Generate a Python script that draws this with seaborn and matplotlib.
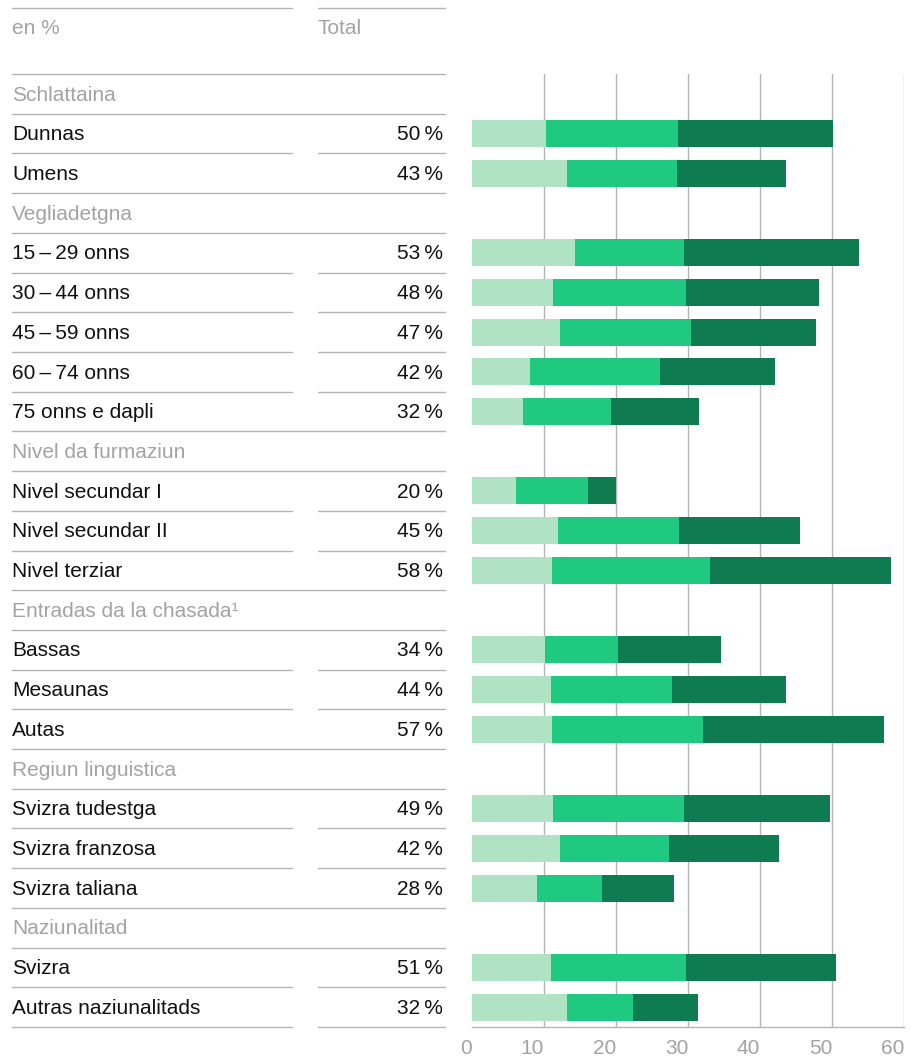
import matplotlib
matplotlib.use("Agg")
import matplotlib.pyplot as plt
from matplotlib.lines import Line2D
from matplotlib.transforms import blended_transform_factory
import pandas as pd
import seaborn as sns

# data
groups = ["Schlattaina", "Vegliadetgna", "Nivel da furmaziun",
          "Entradas da la chasada\u00b9", "Regiun linguistica", "Naziunalitad"]
group_sizes = [2, 5, 3, 3, 3, 2]
categories = ["Dunnas", "Umens",
              "15\u2009\u2013\u200929 onns", "30\u2009\u2013\u200944 onns",
              "45\u2009\u2013\u200959 onns", "60\u2009\u2013\u200974 onns",
              "75 onns e dapli",
              "Nivel secundar I", "Nivel secundar II", "Nivel terziar",
              "Bassas", "Mesaunas", "Autas",
              "Svizra tudestga", "Svizra franzosa", "Svizra taliana",
              "Svizra", "Autras naziunalitads"]
totals = [50, 43, 53, 48, 47, 42, 32, 20, 45, 58, 34, 44, 57, 49, 42, 28, 51, 32]
light = [10.3, 13.2, 14.3, 11.2, 12.2, 8.0, 7.1, 6.1, 11.9, 11.1, 10.1, 11.0,
         11.1, 11.2, 12.2, 9.0, 11.0, 13.2]
mid = [18.3, 15.3, 15.1, 18.5, 18.2, 18.1, 12.2, 10.0, 16.8, 21.9, 10.2, 16.8,
       21.0, 18.2, 15.1, 9.0, 18.7, 9.1]
dark = [21.5, 15.1, 24.3, 18.5, 17.3, 16.0, 12.2, 3.9, 16.8, 25.2, 14.3, 15.8,
        25.1, 20.3, 15.3, 10.0, 20.8, 9.1]
xticks = [0, 10, 20, 30, 40, 50, 60]

C_LIGHT = "#afe3c4"
C_MID = "#20c980"
C_DARK = "#0e7b50"
GRAY_TXT = "#a3a3a3"
GRAY_LINE = "#b4b4b4"
FS = 15

# build rows (group header + items)
recs = []
k = 0
for g, n in zip(groups, group_sizes):
    recs.append(dict(row=g, header=True, total=None, l=0.0, m=0.0, d=0.0))
    for _ in range(n):
        recs.append(dict(row=categories[k], header=False, total=totals[k],
                         l=light[k], m=mid[k], d=dark[k]))
        k += 1
df = pd.DataFrame(recs)
df["c1"] = df["l"]
df["c2"] = df["l"] + df["m"]
df["c3"] = df["c2"] + df["d"]
order = list(df["row"])
nrows = len(order)

sns.set_theme(style="white")
plt.rcParams["font.family"] = ["Liberation Sans", "DejaVu Sans"]

W, H = 911, 1057
fig = plt.figure(figsize=(W / 100, H / 100), dpi=100)
ax = fig.add_axes([472 / W, 1 - 1027 / H, (904.3 - 472) / W, (1027 - 74) / H])

for col, color in [("c3", C_DARK), ("c2", C_MID), ("c1", C_LIGHT)]:
    sns.barplot(data=df, x=col, y="row", order=order, orient="h", color=color,
                width=0.68, linewidth=0, errorbar=None, saturation=1, ax=ax)

ax.set_xlim(0, 60)
ax.set_ylim(nrows - 0.5, -0.5)
ax.set_xlabel("")
ax.set_ylabel("")
ax.set_yticks([])
ax.set_xticks(xticks)
ax.set_xticklabels([str(t) for t in xticks])
for lbl in ax.get_xticklabels():
    lbl.set_ha("right")
ax.tick_params(axis="x", length=0, pad=9, labelsize=15, labelcolor=GRAY_TXT)
for s in ["left", "top", "right"]:
    ax.spines[s].set_visible(False)
ax.spines["bottom"].set_color(GRAY_LINE)
ax.spines["bottom"].set_linewidth(1)
for t in xticks[1:]:
    ax.axvline(t, color=GRAY_LINE, lw=1, zorder=0)

# left table
tr = blended_transform_factory(fig.transFigure, ax.transData)
xl0, xl1 = 12 / W, 292 / W
xr0, xr1 = 318 / W, 445 / W
xtot = 443 / W

for i, r in df.iterrows():
    if r["header"]:
        ax.text(xl0, i + 0.03, r["row"], transform=tr, ha="left", va="center",
                fontsize=FS, color=GRAY_TXT, clip_on=False)
    else:
        ax.text(xl0, i + 0.03, r["row"], transform=tr, ha="left", va="center",
                fontsize=FS, color="#111111", clip_on=False)
        ax.text(xtot, i + 0.03, f"{int(r['total'])}\u2009%", transform=tr,
                ha="right", va="center", fontsize=FS, color="#111111",
                clip_on=False)

headers = list(df["header"])
for b in range(-1, nrows):
    y = b + 0.5
    above_item = b >= 0 and not headers[b]
    below_item = b + 1 < nrows and not headers[b + 1]
    last = b == nrows - 1
    if (above_item and below_item) or last:
        segs = [(xl0, xl1), (xr0, xr1)]
    else:
        segs = [(xl0, xr1)]
    for x0, x1 in segs:
        ax.add_line(Line2D([x0, x1], [y, y], transform=tr, color=GRAY_LINE,
                           lw=1, clip_on=False))

# top header
ytop = 1 - 8 / H
fig.add_artist(Line2D([xl0, xl1], [ytop, ytop], color=GRAY_LINE, lw=1))
fig.add_artist(Line2D([xr0, xr1], [ytop, ytop], color=GRAY_LINE, lw=1))
fig.text(xl0, 1 - 28 / H, "en %", ha="left", va="center", fontsize=FS,
         color=GRAY_TXT)
fig.text(xr0, 1 - 28 / H, "Total", ha="left", va="center", fontsize=FS,
         color=GRAY_TXT)

fig.savefig("out.png", dpi=100)
